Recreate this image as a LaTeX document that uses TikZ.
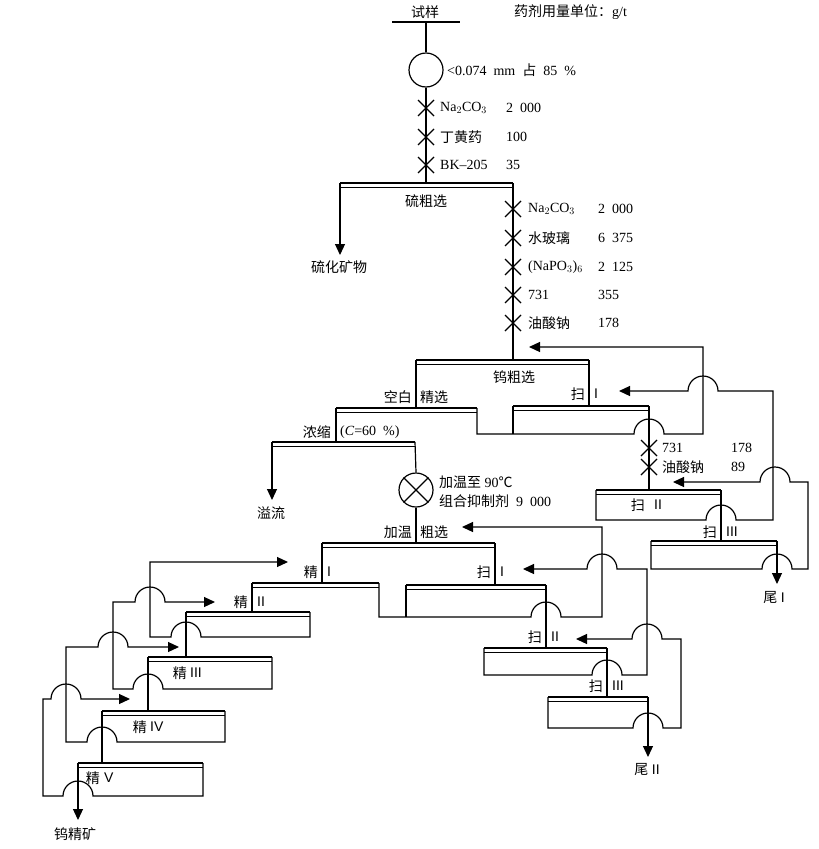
\documentclass[tikz,border=0pt]{standalone}
\usepackage{fontspec}
\setmainfont{Liberation Serif}
\newfontfamily\cjk{Noto Sans CJK SC}
\newfontfamily\rom{Liberation Sans}
\usepackage{tikz}
\usetikzlibrary{arrows.meta}

\newcommand{\zh}[1]{{\cjk #1}}
\newcommand{\rn}[1]{{\rom #1}}
% flotation bar: name, left x, right x, y
\newcommand{\opbar}[4]{%
  \coordinate (#1-l) at (#2,#4);
  \coordinate (#1-r) at (#3,#4);
  \draw[bar] (#2,#4) -- (#3,#4);
  \draw[flow] (#2,#4+4.5) -- (#3,#4+4.5);}
% line crossing: hump going left / going right
\newcommand{\hl}[2]{-- (#1+15,#2) arc[start angle=0, end angle=-180, radius=15]}
\newcommand{\hr}[2]{-- (#1-15,#2) arc[start angle=180, end angle=360, radius=15]}
% reagent mark
\newcommand{\mix}[2]{\draw[flow] (#1-8,#2-8) -- (#1+8,#2+8) (#1-8,#2+8) -- (#1+8,#2-8);}
% stage label split by the line: name, x, y, text, numeral
\newcommand{\stg}[5]{%
  \node[txt, anchor=east] (#1a) at (#2-4,#3) {\zh{#4}};
  \node[txt, anchor=west] (#1b) at (#2+5,#3) {\rn{#5}};}

\begin{document}
\begin{tikzpicture}[x=1pt, y=-1pt,
    flow/.style={line width=1.2pt},
    bar/.style={line width=2.5pt},
    arrow/.style={flow, -{Triangle[length=11pt, width=10pt]}},
    txt/.style={inner sep=0pt, font=\fontsize{14}{16}\selectfont}
  ]
  \useasboundingbox (0,0) rectangle (819,849);

  % Feed and grinding
  \node[txt] (feed) at (425,12) {\zh{试样}};
  \node[txt, anchor=west] (unit) at (514,12) {\zh{药剂用量单位：}g/t};
  \draw[flow] (392,22) -- (460,22);
  \node[draw, circle, flow, minimum size=34pt, inner sep=0pt] (mill) at (426,70) {};
  \node[txt, anchor=west] (grind) at (447,70) {<0.074\enspace mm\enspace\zh{占}\enspace 85\enspace\%};
  \draw[flow] (426,22) -- (mill.north);
  \draw[flow] (mill.south) -- (426,183);
  \foreach \y/\name/\dose in {108/Na$_2$CO$_3$/2\enspace 000, 137/\zh{丁黄药}/100, 165/BK--205/35} {
    \mix{426}{\y}
    \node[txt, anchor=west] (sr\y) at (440,\y) {\name};
    \node[txt, anchor=west] (sd\y) at (506,\y) {\dose};
  }

  % Sulphur roughing
  \opbar{sr}{340}{513}{183}
  \node[txt] (srtext) at (426,201) {\zh{硫粗选}};
  \node[txt] (sulf) at (339,267) {\zh{硫化矿物}};
  \draw[arrow] (sr-l) -- (340,255);
  \draw[flow] (sr-r) -- (513,360);
  \foreach \y/\name/\dose in {209/Na$_2$CO$_3$/2\enspace 000, 238/\zh{水玻璃}/6\enspace 375, 267/(NaPO$_3$)$_6$/2\enspace 125, 295/731/355, 323/\zh{油酸钠}/178} {
    \mix{513}{\y}
    \node[txt, anchor=west] (wr\y) at (528,\y) {\name};
    \node[txt, anchor=west] (wd\y) at (598,\y) {\dose};
  }

  % Tungsten roughing and cleaning
  \opbar{wr}{416}{589}{360}
  \node[txt] (wrtext) at (514,377) {\zh{钨粗选}};
  \draw[flow] (wr-l) -- (416,408);
  \draw[flow] (wr-r) -- (589,406);
  \node[txt, anchor=east] (blank) at (412,397) {\zh{空白}};
  \node[txt, anchor=west] (clean) at (420,397) {\zh{精选}};
  \stg{ws1}{589}{394}{扫}{I}

  \opbar{cl}{336}{477}{408}
  \opbar{ws1}{513}{649}{406}
  \draw[flow] (ws1-l) -- (513,434);
  \draw[arrow] (cl-r) -- (477,434) \hr{649}{434} -- (703,434) -- (703,347) -- (529,347);
  \draw[flow] (cl-l) -- (336,442);

  % Thickening
  \opbar{th}{272}{415}{442}
  \node[txt, anchor=east] (thtext) at (331,432) {\zh{浓缩}};
  \node[txt, anchor=west] (conc) at (340,432) {(\textit{C}=60\enspace\%)};
  \node[txt] (over) at (271,513) {\zh{溢流}};
  \draw[arrow] (th-l) -- (272,500);
  \node[draw, circle, flow, minimum size=34pt, inner sep=0pt] (heat) at (416,490) {};
  \draw[flow] (heat.45) -- (heat.225) (heat.135) -- (heat.315);
  \draw[flow] (th-r) -- (heat.north);
  \draw[flow] (heat.south) -- (416,543);
  \node[txt, anchor=west] (heattext) at (439,482) {\zh{加温至} 90\zh{℃}};
  \node[txt, anchor=west] (deptext) at (439,501) {\zh{组合抑制剂}\enspace 9\enspace 000};

  % Tungsten scavenging
  \stg{ws2t}{649}{505}{扫}{II}
  \mix{649}{448}
  \mix{649}{467}
  \node[txt, anchor=west] (r731) at (662,448) {731};
  \node[txt, anchor=west] (d731) at (731,448) {178};
  \node[txt, anchor=west] (rnao) at (662,467) {\zh{油酸钠}};
  \node[txt, anchor=west] (dnao) at (731,467) {89};
  \draw[flow] (ws1-r) -- (649,490);
  \opbar{ws2}{596}{721}{490}
  \draw[arrow] (ws2-l) -- (596,520) \hr{721}{520} -- (773,520) -- (773,391) \hl{703}{391} -- (619,391);
  \draw[flow] (ws2-r) -- (721,541);
  \stg{ws3}{721}{532}{扫}{III}
  \opbar{ws3}{651}{777}{541}
  \draw[arrow] (ws3-l) -- (651,569) \hr{777}{569} -- (808,569) -- (808,482) \hl{775}{482} -- (673,482);
  \draw[arrow] (ws3-r) -- (777,584);
  \node[txt] (tail1) at (774,597) {\zh{尾}~\rn{I}};

  % Heated roughing
  \opbar{hr}{322}{495}{543}
  \node[txt, anchor=east] (hrA) at (412,532) {\zh{加温}};
  \node[txt, anchor=west] (hrB) at (420,532) {\zh{粗选}};
  \draw[flow] (hr-l) -- (322,583);
  \draw[flow] (hr-r) -- (495,585);
  \stg{c1}{322}{572}{精}{I}
  \stg{hs1}{495}{572}{扫}{I}

  % Heated scavenging
  \opbar{hs1}{406}{546}{585}
  \opbar{c1}{252}{379}{583}
  \draw[flow] (hs1-l) -- (406,617);
  \draw[arrow] (c1-r) -- (379,617) \hr{546}{617} -- (602,617) -- (602,527) -- (462,527);
  \draw[flow] (hs1-r) -- (546,648);
  \stg{hs2}{546}{637}{扫}{II}
  \opbar{hs2}{484}{607}{648}
  \draw[arrow] (hs2-l) -- (484,675) \hr{607}{675} -- (647,675) -- (647,569) \hl{602}{569} -- (523,569);
  \draw[flow] (hs2-r) -- (607,697);
  \stg{hs3}{607}{686}{扫}{III}
  \opbar{hs3}{548}{648}{697}
  \draw[arrow] (hs3-l) -- (548,728) \hr{648}{728} -- (681,728) -- (681,639) \hl{647}{639} -- (576,639);
  \draw[arrow] (hs3-r) -- (648,757);
  \node[txt] (tail2) at (647,769) {\zh{尾}~\rn{II}};

  % Cleaning stages
  \draw[flow] (c1-l) -- (252,612);
  \stg{c2}{252}{602}{精}{II}
  \opbar{c2}{186}{310}{612}
  \draw[arrow] (c2-r) -- (310,637) \hl{186}{637} -- (150,637) -- (150,562) -- (288,562);
  \draw[flow] (c2-l) -- (186,657);
  \opbar{c3}{148}{272}{657}
  \node[txt, anchor=east] (c3a) at (187,673) {\zh{精}};
  \node[txt, anchor=west] (c3b) at (190,673) {\rn{III}};
  \draw[arrow] (c3-r) -- (272,689) \hl{148}{689} -- (113,689) -- (113,602) \hr{150}{602} -- (215,602);
  \draw[flow] (c3-l) -- (148,711);
  \opbar{c4}{102}{225}{711}
  \node[txt, anchor=east] (c4a) at (147,727) {\zh{精}};
  \node[txt, anchor=west] (c4b) at (150,727) {\rn{IV}};
  \draw[arrow] (c4-r) -- (225,742) \hl{102}{742} -- (66,742) -- (66,647) \hr{113}{647} -- (179,647);
  \draw[flow] (c4-l) -- (102,763);
  \opbar{c5}{78}{203}{763}
  \node[txt, anchor=east] (c5a) at (100,778) {\zh{精}};
  \node[txt, anchor=west] (c5b) at (104,778) {\rn{V}};
  \draw[arrow] (c5-r) -- (203,796) \hl{78}{796} -- (43,796) -- (43,699) \hr{66}{699} -- (130,699);
  \draw[arrow] (c5-l) -- (78,820);
  \node[txt] (wconc) at (75,834) {\zh{钨精矿}};
\end{tikzpicture}
\end{document}
